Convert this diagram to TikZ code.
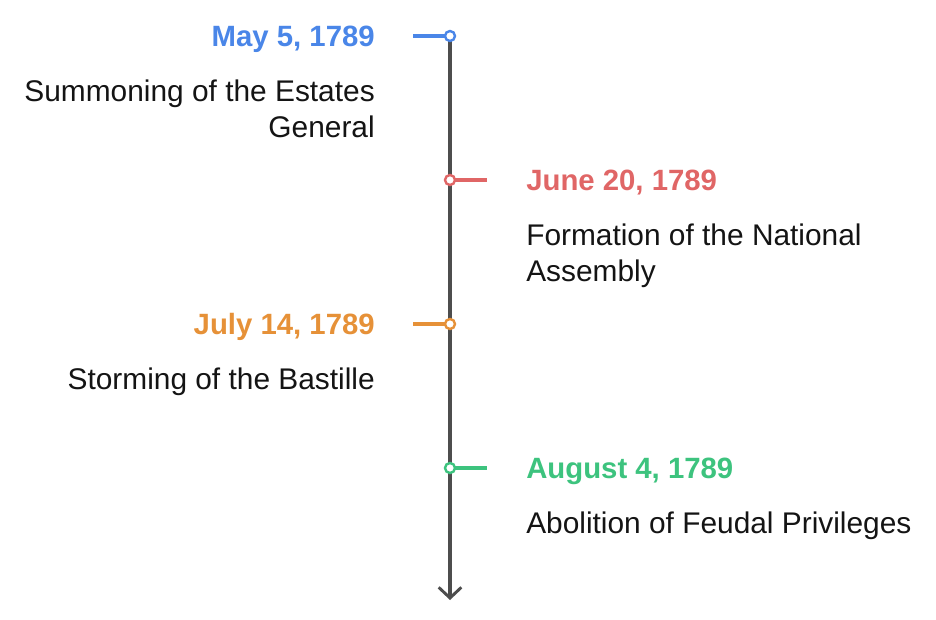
\documentclass[tikz,border=0pt]{standalone}
\usepackage{fontspec}
\setmainfont{Liberation Sans}
\usetikzlibrary{positioning,arrows.meta}
\definecolor{axisgray}{HTML}{4D4D4D}
\definecolor{bodytext}{HTML}{141414}
\definecolor{evblue}{HTML}{4A86E8}
\definecolor{evred}{HTML}{E06666}
\definecolor{evorange}{HTML}{E69138}
\definecolor{evgreen}{HTML}{3DC37E}
\tikzset{
    axisline/.style={
        draw=axisgray, line width=2.3pt,
        -{Straight Barb[length=8pt, width=17pt, line width=2.2pt]}
    },
    eventdot/.style={
        circle, fill=white, line width=1.8pt,
        minimum size=7.5pt, inner sep=0pt
    },
    eventtick/.style={line width=2.3pt},
    datelabel/.style={
        font=\fontsize{22}{27}\selectfont\bfseries, inner sep=0pt
    },
    desclabel/.style={
        font=\fontsize{22.4}{27}\selectfont, text=bodytext, inner sep=0pt
    },
}
\begin{document}
\begin{tikzpicture}[x=0.75pt, y=-0.75pt]
        \useasboundingbox (0,0) rectangle (936,620);
        % axis and ticks
        \coordinate (axisend) at (450,600);
        \coordinate (t1) at (413,36);
        \coordinate (t2) at (487,180);
        \coordinate (t3) at (413,324);
        \coordinate (t4) at (487,468);
        \draw[axisline] (450,36) -- (axisend);
        \draw[eventtick, evblue] (450,36) -- (t1);
        \draw[eventtick, evred] (450,180) -- (t2);
        \draw[eventtick, evorange] (450,324) -- (t3);
        \draw[eventtick, evgreen] (450,468) -- (t4);
        \node[eventdot, draw=evblue] (d1) at (450,36) {};
        \node[eventdot, draw=evred] (d2) at (450,180) {};
        \node[eventdot, draw=evorange] (d3) at (450,324) {};
        \node[eventdot, draw=evgreen] (d4) at (450,468) {};
        % labels
        \node[datelabel, text=evblue, anchor=base east] (date1) at (375,47) {May 5, 1789};
        \node[desclabel, align=right, anchor=north east] (desc1) at (375,76) {\strut Summoning of the Estates\\General};
        \node[datelabel, text=evred, anchor=base west] (date2) at (526,191) {June 20, 1789};
        \node[desclabel, align=left, anchor=north west] (desc2) at (526,220) {\strut Formation of the National\\Assembly};
        \node[datelabel, text=evorange, anchor=base east] (date3) at (375,335) {July 14, 1789};
        \node[desclabel, align=right, anchor=north east] (desc3) at (375,364) {\strut Storming of the Bastille};
        \node[datelabel, text=evgreen, anchor=base west] (date4) at (526,479) {August 4, 1789};
        \node[desclabel, align=left, anchor=north west] (desc4) at (526,508) {\strut Abolition of Feudal Privileges};
    \end{tikzpicture}
\end{document}
